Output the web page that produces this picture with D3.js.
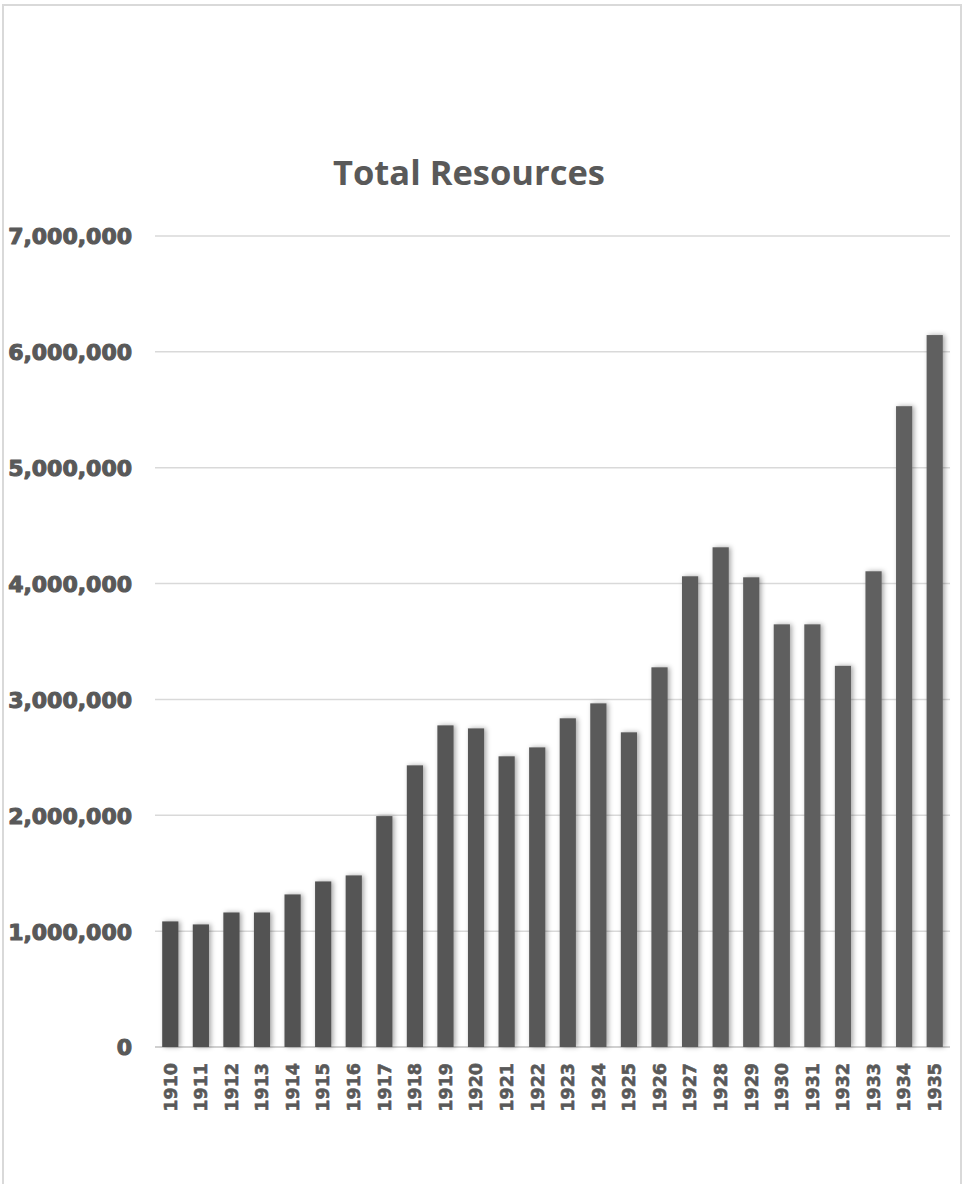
<!DOCTYPE html>
<html>
<head>
<meta charset="utf-8">
<script src="https://cdn.jsdelivr.net/npm/d3@7"></script>
<style>
  html, body { margin: 0; padding: 0; background: #fff; }
  svg { display: block; }
</style>
</head>
<body>
<svg id="chart" width="963" height="1184"></svg>
<script>
// Total resources by year
const years = ["1910","1911","1912","1913","1914","1915","1916","1917","1918","1919","1920","1921","1922",
               "1923","1924","1925","1926","1927","1928","1929","1930","1931","1932","1933","1934","1935"];
const totals = [1084000, 1058000, 1161000, 1161000, 1317000, 1429000, 1481000, 1993000, 2431000, 2776000,
                2750000, 2509000, 2586000, 2837000, 2966000, 2716000, 3277000, 4063000, 4313000, 4054000,
                3648000, 3648000, 3290000, 4106000, 5531000, 6145000];
const yTicks = [0, 1000000, 2000000, 3000000, 4000000, 5000000, 6000000, 7000000];
const title = "Total Resources";

const W = 963, H = 1184;
const plot = { left: 155, right: 950, top: 236, bottom: 1047 };

const svg = d3.select("#chart");

// drop shadow for the bars
const defs = svg.append("defs");
const f = defs.append("filter").attr("id", "shadow")
  .attr("x", "-50%").attr("y", "-5%").attr("width", "200%").attr("height", "110%");
f.append("feDropShadow").attr("dx", 2).attr("dy", 0).attr("stdDeviation", 2.5)
  .attr("flood-color", "#000").attr("flood-opacity", 0.35);

// outer frame
svg.append("rect").attr("x", 3).attr("y", 5).attr("width", W - 5).attr("height", H + 10)
  .attr("fill", "#fff").attr("stroke", "#d9d9d9").attr("stroke-width", 2);

const x = d3.scaleBand().domain(years).range([plot.left, plot.right]).paddingInner(0.47).paddingOuter(0.235);
const y = d3.scaleLinear().domain([0, 7000000]).range([plot.bottom, plot.top]);

// gridlines
svg.append("g").selectAll("line").data(yTicks).join("line")
  .attr("x1", plot.left).attr("x2", plot.right)
  .attr("y1", d => y(d)).attr("y2", d => y(d))
  .attr("stroke", d => d === 0 ? "#d0d0d0" : "#d9d9d9")
  .attr("stroke-width", d => d === 0 ? 2 : 1.5);

// y axis labels
const yAxis = d3.axisLeft(y).tickValues(yTicks).tickFormat(d3.format(",")).tickSize(0).tickPadding(0);
const ya = svg.append("g").attr("transform", `translate(132,0)`).call(yAxis);
ya.select(".domain").remove();
ya.selectAll("text")
  .attr("font-family", "DejaVu Sans").attr("font-weight", "bold").attr("font-size", 22)
  .attr("fill", "#595959").attr("stroke", "#595959").attr("stroke-width", 1.1)
  .attr("stroke-linejoin", "round").attr("dy", "0.36em");

// bars
const shade = d3.scaleLinear().domain([0, years.length - 1]).range(["#505050", "#616161"]);
svg.append("g").attr("filter", "url(#shadow)")
  .selectAll("rect").data(years).join("rect")
  .attr("x", d => x(d))
  .attr("width", x.bandwidth())
  .attr("y", (d, i) => y(totals[i]))
  .attr("height", (d, i) => y(0) - y(totals[i]))
  .attr("fill", (d, i) => shade(i));

// x axis labels, rotated
const xAxis = d3.axisBottom(x).tickSize(0).tickPadding(0);
const xa = svg.append("g").attr("transform", `translate(0,${plot.bottom})`).call(xAxis);
xa.select(".domain").remove();
xa.selectAll("text")
  .attr("font-family", "DejaVu Sans").attr("font-weight", "bold").attr("font-size", 17.5)
  .attr("fill", "#595959").attr("stroke", "#595959").attr("stroke-width", 0.6)
  .attr("text-anchor", "end")
  .attr("transform", "rotate(-90)")
  .attr("x", -16).attr("y", 0).attr("dy", "0.36em");

// title
svg.append("text").attr("x", 469).attr("y", 185).attr("text-anchor", "middle")
  .attr("font-family", "Open Sans").attr("font-weight", "bold").attr("font-size", 34.5)
  .attr("fill", "#595959").text(title);
</script>
</body>
</html>
